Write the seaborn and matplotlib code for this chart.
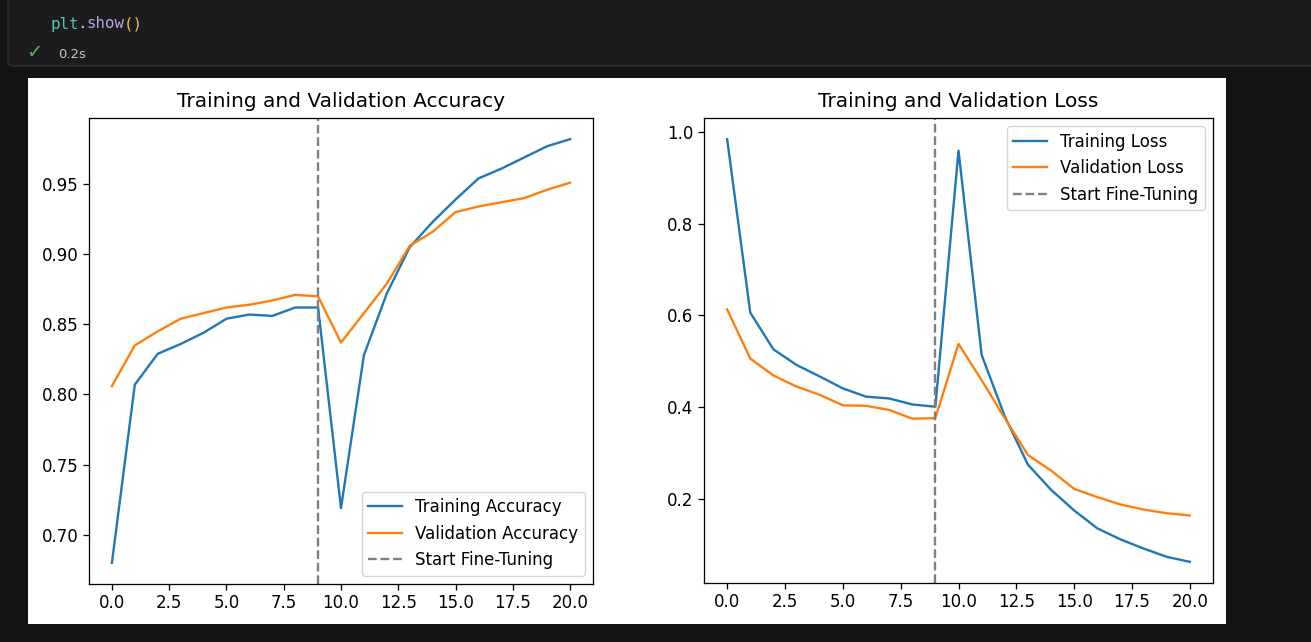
import numpy as np
import pandas as pd
import seaborn as sns
import matplotlib.pyplot as plt
from matplotlib.patches import Rectangle, FancyBboxPatch

epochs = list(range(21))
fine_tune_at = 9

train_acc = [0.680, 0.807, 0.829, 0.836, 0.844, 0.854, 0.857, 0.856, 0.862, 0.862,
             0.719, 0.828, 0.872, 0.905, 0.923, 0.939, 0.954, 0.961, 0.969, 0.977, 0.982]
val_acc = [0.806, 0.835, 0.845, 0.854, 0.858, 0.862, 0.864, 0.867, 0.871, 0.870,
           0.837, 0.858, 0.879, 0.906, 0.916, 0.930, 0.934, 0.937, 0.940, 0.946, 0.951]
train_loss = [0.984, 0.606, 0.526, 0.492, 0.467, 0.441, 0.423, 0.419, 0.406, 0.401,
              0.959, 0.514, 0.380, 0.275, 0.220, 0.175, 0.136, 0.112, 0.092, 0.074, 0.063]
val_loss = [0.613, 0.506, 0.469, 0.445, 0.427, 0.404, 0.403, 0.394, 0.375, 0.376,
            0.538, 0.459, 0.376, 0.296, 0.262, 0.222, 0.204, 0.188, 0.177, 0.169, 0.164]

plt.rcParams['font.size'] = 12
plt.rcParams['axes.titlesize'] = 14.5
plt.rcParams['axes.titlepad'] = 8
plt.rcParams['lines.linewidth'] = 1.7
plt.rcParams['axes.linewidth'] = 0.92
plt.rcParams['xtick.major.size'] = 4
plt.rcParams['ytick.major.size'] = 4
plt.rcParams['xtick.major.width'] = 0.92
plt.rcParams['ytick.major.width'] = 0.92

W, H = 1311, 642
fig = plt.figure(figsize=(W / 100, H / 100), dpi=100, facecolor='#141416')


def fx(px):
    return px / W


def fy(py):
    return 1 - py / H


# notebook cell above the output
cell = FancyBboxPatch((fx(8), fy(66)), fx(1320), fy(-10) - fy(66),
                      boxstyle='round,pad=0,rounding_size=0.006',
                      transform=fig.transFigure, facecolor='#1c1c1e',
                      edgecolor='#2c2c2e', linewidth=1.2, zorder=-10)
fig.patches.append(cell)
x0 = 50
cw = 9.2
for txt, col, off in [('plt', '#4ec9b0', 0), ('.', '#d4d4d4', 3), ('show', '#b9a3ec', 4), ('()', '#e8c34a', 8)]:
    fig.text(fx(x0 + off * cw), fy(24), txt, color=col, family='DejaVu Sans Mono',
             fontsize=11.3, va='center', ha='left')
fig.text(fx(26), fy(53), '\u2713', color='#56b45c', fontsize=14, va='center', ha='left')
fig.text(fx(58), fy(54), '0.2s', color='#c8c8c8', fontsize=9.5, va='center', ha='left')

# white output area
fig.patches.append(Rectangle((fx(28), fy(624)), fx(1198), fy(78) - fy(624),
                             transform=fig.transFigure, facecolor='white',
                             edgecolor='none', zorder=-10))

ax1 = fig.add_axes([fx(89), fy(584), fx(504), fy(118) - fy(584)])
ax2 = fig.add_axes([fx(704), fy(583), fx(509), fy(118) - fy(583)])

acc = pd.DataFrame({'epoch': epochs, 'train': train_acc, 'val': val_acc})
loss = pd.DataFrame({'epoch': epochs, 'train': train_loss, 'val': val_loss})

sns.lineplot(x=acc['epoch'], y=acc['train'], ax=ax1, label='Training Accuracy', color='#1f77b4')
sns.lineplot(x=acc['epoch'], y=acc['val'], ax=ax1, label='Validation Accuracy', color='#ff7f0e')
ax1.axvline(fine_tune_at, color='gray', linestyle='--', label='Start Fine-Tuning')
ax1.set_title('Training and Validation Accuracy')
ax1.legend(loc='lower right')

sns.lineplot(x=loss['epoch'], y=loss['train'], ax=ax2, label='Training Loss', color='#1f77b4')
sns.lineplot(x=loss['epoch'], y=loss['val'], ax=ax2, label='Validation Loss', color='#ff7f0e')
ax2.axvline(fine_tune_at, color='gray', linestyle='--', label='Start Fine-Tuning')
ax2.set_title('Training and Validation Loss')
ax2.legend(loc='upper right')

for ax in (ax1, ax2):
    ax.set_xlabel('')
    ax.set_ylabel('')
    ax.set_xticks([0, 2.5, 5, 7.5, 10, 12.5, 15, 17.5, 20])

fig.savefig('out.png', dpi=100, facecolor=fig.get_facecolor())
